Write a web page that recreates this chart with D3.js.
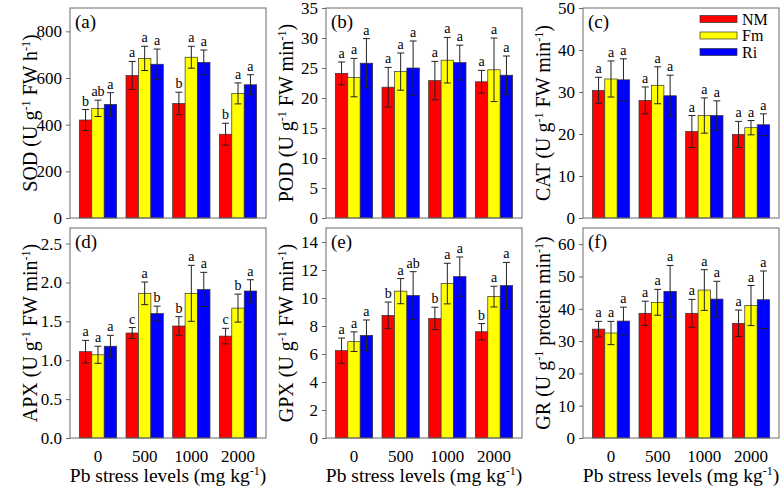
<!DOCTYPE html>
<html><head><meta charset="utf-8">
<script src="https://cdn.jsdelivr.net/npm/d3@7"></script>
<style>
body{margin:0;background:#fff}
svg{display:block}
text{font-family:"Liberation Serif","Times New Roman",serif;fill:#000}
</style>
</head><body>
<svg id="chart" width="784" height="490"></svg>
<script>
// ---------------- data ----------------
const levels = ["0", "500", "1000", "2000"];
const treatments = ["NM", "Fm", "Ri"];
const colors = ["#ff0000", "#ffff00", "#0000ff"];

// means [treatment][level]
const sodMeans = [[420, 611, 491, 359], [470, 684, 689, 534], [487, 659, 667, 571]];
const sodErrors = [[45, 60, 48, 47], [35, 52, 47, 45], [50, 65, 53, 43]];
const sodLetters = [["b", "a", "b", "b"], ["ab", "a", "a", "a"], ["a", "a", "a", "a"]];

const podMeans = [[24.1, 21.8, 22.9, 22.7], [23.4, 24.4, 26.3, 24.7], [25.8, 25.0, 25.9, 23.8]];
const podErrors = [[1.9, 3.3, 3.2, 1.9], [3.2, 3.1, 3.8, 5.3], [4.1, 4.5, 2.9, 3.2]];
const podLetters = [["a", "a", "a", "a"], ["a", "a", "a", "a"], ["a", "a", "a", "a"]];

const catMeans = [[30.4, 28.0, 20.6, 19.9], [33.1, 31.6, 24.4, 21.5], [32.9, 29.1, 24.4, 22.2]];
const catErrors = [[3.1, 3.2, 3.8, 3.1], [4.3, 4.4, 4.2, 1.7], [5.0, 4.9, 3.5, 2.6]];
const catLetters = [["a", "a", "a", "a"], ["a", "a", "a", "a"], ["a", "a", "a", "a"]];

const apxMeans = [[1.11, 1.35, 1.44, 1.31], [1.07, 1.86, 1.86, 1.67], [1.18, 1.60, 1.91, 1.89]];
const apxErrors = [[0.145, 0.07, 0.12, 0.10], [0.11, 0.145, 0.36, 0.18], [0.14, 0.095, 0.22, 0.145]];
const apxLetters = [["a", "c", "b", "c"], ["a", "a", "a", "b"], ["a", "b", "a", "a"]];

const gpxMeans = [[6.24, 8.76, 8.54, 7.59], [6.88, 10.49, 11.03, 10.10], [7.33, 10.18, 11.53, 10.89]];
const gpxErrors = [[0.9, 0.95, 0.8, 0.58], [0.7, 0.9, 1.45, 0.74], [1.1, 1.7, 1.4, 1.65]];
const gpxLetters = [["a", "b", "b", "b"], ["a", "a", "a", "a"], ["a", "ab", "a", "a"]];

const grMeans = [[33.7, 38.6, 38.6, 35.5], [32.5, 42.0, 45.8, 41.0], [36.2, 45.4, 43.0, 42.8]];
const grErrors = [[2.4, 3.75, 4.3, 4.1], [3.6, 4.0, 6.3, 6.2], [4.3, 8.0, 5.5, 8.9]];
const grLetters = [["a", "a", "a", "a"], ["a", "a", "a", "a"], ["a", "a", "a", "a"]];

const sodTicks = [0, 200, 400, 600, 800];
const podTicks = [0, 5, 10, 15, 20, 25, 30, 35];
const catTicks = [0, 10, 20, 30, 40, 50];
const apxTicks = [0, 0.5, 1.0, 1.5, 2.0, 2.5];
const gpxTicks = [0, 2, 4, 6, 8, 10, 12, 14];
const grTicks = [0, 10, 20, 30, 40, 50, 60];

// ---------------- layout ----------------
const colLeft = [70, 326, 583];
const panelW = 196;
const rowTop = [8, 228];
const panelH = 210;
const serif = '"Liberation Serif","Times New Roman",serif';

const panels = [
  {label: "(a)", name: "SOD", unit: ["U g", "-1", " FW h", "-1", ")"], max: 900, ticks: sodTicks, fmt: d => d, means: sodMeans, errs: sodErrors, letters: sodLetters, col: 0, row: 0},
  {label: "(b)", name: "POD", unit: ["U g", "-1", " FW min", "-1", ")"], max: 35, ticks: podTicks, fmt: d => d, means: podMeans, errs: podErrors, letters: podLetters, col: 1, row: 0},
  {label: "(c)", name: "CAT", unit: ["U g", "-1", " FW min", "-1", ")"], max: 50, ticks: catTicks, fmt: d => d, means: catMeans, errs: catErrors, letters: catLetters, col: 2, row: 0, legend: true},
  {label: "(d)", name: "APX", unit: ["U g", "-1", " FW min", "-1", ")"], max: 2.7, ticks: apxTicks, fmt: d3.format(".1f"), means: apxMeans, errs: apxErrors, letters: apxLetters, col: 0, row: 1},
  {label: "(e)", name: "GPX", unit: ["U g", "-1", " FW min", "-1", ")"], max: 15, ticks: gpxTicks, fmt: d => d, means: gpxMeans, errs: gpxErrors, letters: gpxLetters, col: 1, row: 1},
  {label: "(f)", name: "GR", unit: ["U g", "-1", " protein min", "-1", ")"], max: 65, ticks: grTicks, fmt: d => d, means: grMeans, errs: grErrors, letters: grLetters, col: 2, row: 1}
];

const svg = d3.select("#chart");
const frameColor = "#6a6a6a";

panels.forEach(p => {
  const x0 = colLeft[p.col], y0 = rowTop[p.row];
  const x1 = x0 + panelW, y1 = y0 + panelH;
  const g = svg.append("g");

  const x = d3.scaleBand().domain(levels).range([x0, x1]).paddingInner(0.2).paddingOuter(0.2);
  const xi = d3.scaleBand().domain(d3.range(treatments.length)).range([0, x.bandwidth()]);
  const y = d3.scaleLinear().domain([0, p.max]).range([y1, y0]);

  // bars
  treatments.forEach((t, ti) => {
    levels.forEach((lv, li) => {
      const m = p.means[ti][li], e = p.errs[ti][li];
      const bx = x(lv) + xi(ti), bw = xi.bandwidth();
      g.append("rect")
        .attr("x", bx).attr("y", y(m))
        .attr("width", bw).attr("height", y(0) - y(m))
        .attr("fill", colors[ti]).attr("stroke", "#333").attr("stroke-width", 0.7);
      const cx = bx + bw / 2;
      const eg = g.append("g").attr("stroke", "#222").attr("stroke-width", 1);
      eg.append("line").attr("x1", cx).attr("x2", cx).attr("y1", y(m + e)).attr("y2", y(m - e));
      eg.append("line").attr("x1", cx - 3.5).attr("x2", cx + 3.5).attr("y1", y(m + e)).attr("y2", y(m + e));
      eg.append("line").attr("x1", cx - 3.5).attr("x2", cx + 3.5).attr("y1", y(m - e)).attr("y2", y(m - e));
      g.append("text").attr("x", cx).attr("y", y(m + e) - 4)
        .attr("text-anchor", "middle").style("font-size", "14px").style("font-family", serif)
        .text(p.letters[ti][li]);
    });
  });

  // frame
  g.append("rect").attr("x", x0).attr("y", y0).attr("width", panelW).attr("height", panelH)
    .attr("fill", "none").attr("stroke", frameColor).attr("stroke-width", 1);

  // y axis
  const yAxis = d3.axisLeft(y).tickValues(p.ticks).tickFormat(p.fmt).tickSize(4).tickPadding(4);
  const ya = g.append("g").attr("transform", `translate(${x0},0)`).call(yAxis);
  ya.select(".domain").remove();
  ya.selectAll(".tick line").attr("stroke", frameColor);
  ya.selectAll(".tick text").style("font-size", "17px").style("font-family", serif).attr("fill", "#000");

  // x axis (bottom row only)
  if (p.row === 1) {
    const xAxis = d3.axisBottom(x).tickSize(0).tickPadding(12);
    const xa = g.append("g").attr("transform", `translate(0,${y1})`).call(xAxis);
    xa.select(".domain").remove();
    xa.selectAll(".tick text").style("font-size", "17px").style("font-family", serif).attr("fill", "#000");
    const xt = g.append("text").attr("x", (x0 + x1) / 2).attr("y", 482)
      .attr("text-anchor", "middle").style("font-size", "19.5px").style("font-family", serif);
    xt.append("tspan").text("Pb stress levels (mg kg");
    xt.append("tspan").attr("dy", -7).style("font-size", "12px").text("-1");
    xt.append("tspan").attr("dy", 7).text(")");
  }

  // y title
  const tx = x0 - 33, ty = (y0 + y1) / 2;
  const yt = g.append("text").attr("transform", `translate(${tx},${ty}) rotate(-90)`)
    .attr("text-anchor", "middle").style("font-size", "20px").style("font-family", serif);
  yt.append("tspan").text(p.name + " (" + p.unit[0]);
  yt.append("tspan").attr("dy", -7).style("font-size", "12px").text(p.unit[1]);
  yt.append("tspan").attr("dy", 7).text(p.unit[2]);
  yt.append("tspan").attr("dy", -7).style("font-size", "12px").text(p.unit[3]);
  yt.append("tspan").attr("dy", 7).text(p.unit[4]);

  // panel label
  g.append("text").attr("x", x0 + 5).attr("y", y0 + 20)
    .style("font-size", "19px").style("font-family", serif).text(p.label);

  // legend
  if (p.legend) {
    treatments.forEach((t, ti) => {
      const cy = y0 + 11 + ti * 16.5;
      g.append("rect").attr("x", x1 - 79).attr("y", cy - 3.5).attr("width", 37).attr("height", 7)
        .attr("fill", colors[ti]).attr("stroke", "#333").attr("stroke-width", 0.7);
      g.append("text").attr("x", x1 - 37).attr("y", cy + 5.5)
        .style("font-size", "16px").style("font-family", serif).text(t);
    });
  }
});
</script>
</body></html>
